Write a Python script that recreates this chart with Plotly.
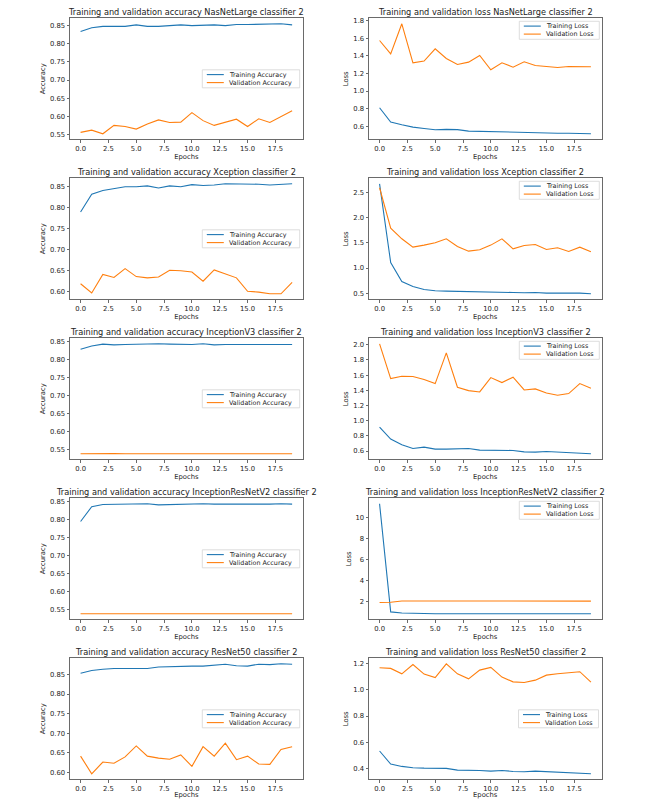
import plotly.graph_objects as go

# ---------------- data ----------------
EPOCHS = list(range(20))
MODELS = ["NasNetLarge", "Xception", "InceptionV3", "InceptionResNetV2", "ResNet50"]

NASNET_TRAIN_ACC = [0.833, 0.843, 0.847, 0.848, 0.847, 0.851, 0.847, 0.847, 0.849, 0.851,
                    0.849, 0.851, 0.851, 0.849, 0.852, 0.852, 0.853, 0.852, 0.854, 0.851]
NASNET_VAL_ACC = [0.557, 0.563, 0.553, 0.576, 0.573, 0.566, 0.580, 0.591, 0.584, 0.585,
                  0.611, 0.589, 0.576, 0.584, 0.593, 0.573, 0.594, 0.584, 0.599, 0.616]
NASNET_TRAIN_LOSS = [0.810, 0.646, 0.616, 0.589, 0.574, 0.559, 0.563, 0.560, 0.544, 0.540,
                     0.536, 0.533, 0.529, 0.525, 0.524, 0.517, 0.520, 0.520, 0.513, 0.513]
NASNET_VAL_LOSS = [1.576, 1.424, 1.766, 1.322, 1.341, 1.481, 1.371, 1.303, 1.329, 1.405,
                   1.242, 1.322, 1.272, 1.333, 1.291, 1.284, 1.269, 1.280, 1.276, 1.276]

XCEPTION_TRAIN_ACC = [0.789, 0.831, 0.840, 0.845, 0.849, 0.849, 0.851, 0.846, 0.851, 0.849,
                      0.854, 0.852, 0.853, 0.856, 0.856, 0.855, 0.855, 0.853, 0.854, 0.856]
XCEPTION_VAL_ACC = [0.618, 0.596, 0.640, 0.633, 0.654, 0.635, 0.632, 0.634, 0.650, 0.649,
                    0.646, 0.624, 0.651, 0.642, 0.632, 0.600, 0.598, 0.594, 0.594, 0.621]
XCEPTION_TRAIN_LOSS = [2.679, 1.111, 0.733, 0.633, 0.573, 0.547, 0.540, 0.533, 0.533, 0.533,
                       0.520, 0.520, 0.513, 0.507, 0.513, 0.500, 0.500, 0.507, 0.500, 0.487]
XCEPTION_VAL_LOSS = [2.600, 1.796, 1.583, 1.417, 1.457, 1.503, 1.583, 1.430, 1.337, 1.364,
                     1.457, 1.583, 1.384, 1.450, 1.470, 1.370, 1.404, 1.330, 1.417, 1.324]

INCV3_TRAIN_ACC = [0.828, 0.837, 0.842, 0.840, 0.841, 0.842, 0.843, 0.843, 0.842, 0.841,
                   0.841, 0.843, 0.840, 0.841, 0.841, 0.841, 0.842, 0.843, 0.843, 0.841]
INCV3_VAL_ACC = [0.5385, 0.5392, 0.5385, 0.5392, 0.5385, 0.5385, 0.5385, 0.5385, 0.5385, 0.5385,
                 0.5385, 0.5385, 0.5385, 0.5385, 0.5385, 0.5385, 0.5385, 0.5385, 0.5385, 0.5385]
INCV3_TRAIN_LOSS = [0.916, 0.758, 0.683, 0.634, 0.652, 0.626, 0.626, 0.634, 0.634, 0.612,
                    0.612, 0.608, 0.608, 0.590, 0.586, 0.595, 0.586, 0.573, 0.573, 0.564]
INCV3_VAL_LOSS = [2.013, 1.555, 1.586, 1.582, 1.542, 1.489, 1.894, 1.441, 1.396, 1.379,
                  1.568, 1.502, 1.573, 1.405, 1.419, 1.366, 1.335, 1.357, 1.489, 1.427]

IRV2_TRAIN_ACC = [0.794, 0.835, 0.841, 0.842, 0.842, 0.842, 0.843, 0.840, 0.841, 0.842,
                  0.842, 0.843, 0.842, 0.842, 0.842, 0.840, 0.842, 0.842, 0.843, 0.842]
IRV2_VAL_ACC = [0.539, 0.539, 0.539, 0.539, 0.539, 0.539, 0.539, 0.539, 0.539, 0.539,
                0.539, 0.539, 0.539, 0.539, 0.539, 0.539, 0.539, 0.539, 0.539, 0.539]
IRV2_TRAIN_LOSS = [11.30, 0.97, 0.86, 0.82, 0.81, 0.80, 0.80, 0.81, 0.80, 0.80,
                   0.80, 0.79, 0.80, 0.80, 0.80, 0.80, 0.80, 0.80, 0.80, 0.79]
IRV2_VAL_LOSS = [1.87, 1.90, 2.02, 2.02, 2.02, 2.00, 2.00, 2.00, 2.00, 2.00,
                 2.01, 2.02, 1.99, 1.98, 2.02, 2.03, 2.02, 2.00, 2.02, 2.00]

RESNET_TRAIN_ACC = [0.853, 0.860, 0.863, 0.865, 0.865, 0.865, 0.865, 0.869, 0.870, 0.871,
                    0.871, 0.871, 0.873, 0.876, 0.872, 0.871, 0.876, 0.875, 0.877, 0.876]
RESNET_VAL_ACC = [0.642, 0.597, 0.627, 0.624, 0.640, 0.668, 0.642, 0.637, 0.634, 0.645,
                  0.616, 0.666, 0.642, 0.675, 0.633, 0.642, 0.622, 0.621, 0.659, 0.666]
RESNET_TRAIN_LOSS = [0.535, 0.436, 0.418, 0.408, 0.405, 0.405, 0.403, 0.390, 0.390, 0.387,
                     0.382, 0.387, 0.380, 0.377, 0.382, 0.377, 0.372, 0.370, 0.367, 0.362]
RESNET_VAL_LOSS = [1.167, 1.162, 1.121, 1.192, 1.119, 1.093, 1.197, 1.121, 1.083, 1.149,
                   1.170, 1.096, 1.060, 1.055, 1.073, 1.111, 1.121, 1.131, 1.137, 1.058]

X_TICKS = [0.0, 2.5, 5.0, 7.5, 10.0, 12.5, 15.0, 17.5]
ACC_TICKS = [0.55, 0.60, 0.65, 0.70, 0.75, 0.80, 0.85]
NASNET_LOSS_TICKS = [0.6, 0.8, 1.0, 1.2, 1.4, 1.6, 1.8]
XCEPTION_LOSS_TICKS = [0.5, 1.0, 1.5, 2.0, 2.5]
INCV3_LOSS_TICKS = [0.6, 0.8, 1.0, 1.2, 1.4, 1.6, 1.8, 2.0]
IRV2_LOSS_TICKS = [2, 4, 6, 8, 10]
RESNET_LOSS_TICKS = [0.4, 0.6, 0.8, 1.0, 1.2]

ACC_LABELS = ["Training Accuracy", "Validation Accuracy"]
LOSS_LABELS = ["Training Loss", "Validation Loss"]

ACC_DATA = [(NASNET_TRAIN_ACC, NASNET_VAL_ACC), (XCEPTION_TRAIN_ACC, XCEPTION_VAL_ACC),
            (INCV3_TRAIN_ACC, INCV3_VAL_ACC), (IRV2_TRAIN_ACC, IRV2_VAL_ACC),
            (RESNET_TRAIN_ACC, RESNET_VAL_ACC)]
LOSS_DATA = [(NASNET_TRAIN_LOSS, NASNET_VAL_LOSS), (XCEPTION_TRAIN_LOSS, XCEPTION_VAL_LOSS),
             (INCV3_TRAIN_LOSS, INCV3_VAL_LOSS), (IRV2_TRAIN_LOSS, IRV2_VAL_LOSS),
             (RESNET_TRAIN_LOSS, RESNET_VAL_LOSS)]
ACC_TICK_SETS = [ACC_TICKS] * 5
LOSS_TICK_SETS = [NASNET_LOSS_TICKS, XCEPTION_LOSS_TICKS, INCV3_LOSS_TICKS,
                  IRV2_LOSS_TICKS, RESNET_LOSS_TICKS]
LOSS_TICK_FMT = ["{:.1f}", "{:.1f}", "{:.1f}", "{:d}", "{:.1f}"]

# ---------------- style / geometry ----------------
W, H = 666, 799
COL_X = [(70.0, 302.7), (369.0, 601.5)]
ROW_TOP0, ROW_STEP, AX_H = 18.3, 160.0, 121.0
BLUE, ORANGE = "#1f77b4", "#ff7f0e"
FONT = "DejaVu Sans"
TXT = "#222222"
SPINE = "#6a6a6a"


def px(x):
    return x / W


def py(y):
    return 1 - y / H


fig = go.Figure()
shapes, annotations = [], []
layout_axes = {}


def add_panel(k, row, col, train, val, labels, ticks, tick_fmt, title, ylabel, legend_loc):
    x0, x1 = COL_X[col]
    top = ROW_TOP0 + ROW_STEP * row
    bot = top + AX_H
    xa, ya = f"x{k}", f"y{k}"
    for series, color in ((train, BLUE), (val, ORANGE)):
        fig.add_trace(go.Scatter(x=EPOCHS, y=series, mode="lines",
                                 line=dict(color=color, width=1.1),
                                 xaxis=xa, yaxis=ya, showlegend=False,
                                 hoverinfo="x+y"))
    lo = min(min(train), min(val))
    hi = max(max(train), max(val))
    span = hi - lo
    yr = [lo - 0.05 * span, hi + 0.05 * span]
    n = len(EPOCHS) - 1
    xr = [-0.05 * n, n + 0.05 * n]
    common = dict(showline=True, mirror=True, linecolor=SPINE, linewidth=1,
                  ticks="outside", ticklen=2.5, tickwidth=0.8, tickcolor=SPINE,
                  showgrid=False, zeroline=False, automargin=False,
                  tickfont=dict(size=6.8, color=TXT, family=FONT))
    layout_axes["xaxis" if k == 1 else f"xaxis{k}"] = dict(
        domain=[px(x0), px(x1)], anchor=ya, range=xr,
        tickvals=X_TICKS, ticktext=[f"{t:.1f}" for t in X_TICKS],
        title=dict(text="Epochs", font=dict(size=6.8, color=TXT, family=FONT), standoff=2),
        **common)
    layout_axes["yaxis" if k == 1 else f"yaxis{k}"] = dict(
        domain=[py(bot), py(top)], anchor=xa, range=yr,
        tickvals=ticks, ticktext=[tick_fmt.format(t) for t in ticks],
        title=dict(text=ylabel, font=dict(size=6.8, color=TXT, family=FONT), standoff=3),
        **common)
    annotations.append(dict(text=title, x=px((x0 + x1) / 2), y=py(top), xref="paper", yref="paper",
                            xanchor="center", yanchor="bottom", showarrow=False, borderpad=0,
                            yshift=0.5, font=dict(size=8.2, color=TXT, family=FONT)))
    # legend box (drawn like matplotlib's framed legend)
    bw = 97.4 if labels is ACC_LABELS else 80.0
    bh = 18.0
    if legend_loc == "center right":
        br = x1 - 3.0
        bt = top + AX_H / 2 - bh / 2
    else:
        br = x1 - 2.2
        bt = top + 3.0
    bl = br - bw
    shapes.append(dict(type="rect", xref="paper", yref="paper",
                       x0=px(bl), x1=px(br), y0=py(bt + bh), y1=py(bt),
                       line=dict(color="#d4d4d4", width=0.8),
                       fillcolor="rgba(255,255,255,0.85)", layer="above"))
    for j, (lab, color) in enumerate(zip(labels, (BLUE, ORANGE))):
        yy = bt + 4.8 + 8.0 * j
        shapes.append(dict(type="line", xref="paper", yref="paper",
                           x0=px(bl + 4.5), x1=px(bl + 21.5), y0=py(yy), y1=py(yy),
                           line=dict(color=color, width=1.1), layer="above"))
        annotations.append(dict(text=lab, x=px(bl + 25.5), y=py(yy), xref="paper", yref="paper",
                                xanchor="left", yanchor="middle", showarrow=False, borderpad=0,
                                font=dict(size=6.4, color=TXT, family=FONT)))


k = 1
for r, model in enumerate(MODELS):
    tr, va = ACC_DATA[r]
    add_panel(k, r, 0, tr, va, ACC_LABELS, ACC_TICK_SETS[r], "{:.2f}",
              f"Training and validation accuracy {model} classifier 2", "Accuracy", "center right")
    k += 1
    tr, va = LOSS_DATA[r]
    add_panel(k, r, 1, tr, va, LOSS_LABELS, LOSS_TICK_SETS[r], LOSS_TICK_FMT[r],
              f"Training and validation loss {model} classifier 2", "Loss",
              "center right" if r == 4 else "upper right")
    k += 1

fig.update_layout(width=W, height=H, margin=dict(l=0, r=0, t=0, b=0),
                  paper_bgcolor="white", plot_bgcolor="white",
                  font=dict(family=FONT, color=TXT), showlegend=False,
                  shapes=shapes, annotations=annotations, **layout_axes)

fig.write_html("out.html", config={"displayModeBar": False},
               post_script="document.body.style.margin='0';document.body.style.overflow='hidden';")
